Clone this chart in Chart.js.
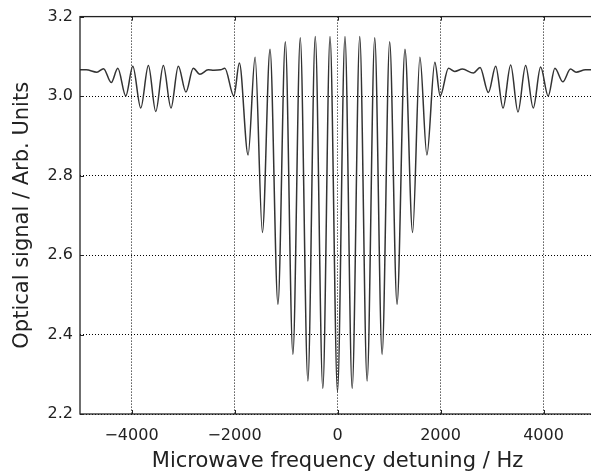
<!DOCTYPE html>
<html>
<head>
<meta charset="utf-8">
<script src="https://cdn.jsdelivr.net/npm/chart.js@4.4.1/dist/chart.umd.min.js"></script>
<style>
  html, body { margin: 0; padding: 0; background: #fff; overflow: hidden; }
  canvas { display: block; }
</style>
</head>
<body>
<canvas id="grafico" width="600" height="472"></canvas>
<script>
/* Sinal óptico x dessintonia de micro-ondas (extremos). */
const FREQ_HZ = [
  -5000, -4880, -4672, -4543, -4394, -4266, -4111, -3975, -3820, -3672,
  -3529, -3382, -3233, -3091, -2943, -2801, -2672, -2511, -2400, -2270,
  -2188, -2013, -1905, -1736, -1600, -1458, -1310, -1156, -1013, -866,
  -723, -575, -432, -285, -145, 0, 145, 285, 432, 575,
  723, 866, 1013, 1156, 1310, 1458, 1600, 1736, 1890, 1994,
  2155, 2275, 2426, 2639, 2768, 2930, 3072, 3214, 3363, 3504,
  3653, 3801, 3944, 4091, 4221, 4375, 4524, 4633, 4815, 5000,
];
const SINAL = [
  3.066, 3.066, 3.060, 3.069, 3.034, 3.070, 3.000, 3.075, 2.970, 3.077,
  2.961, 3.077, 2.970, 3.075, 3.010, 3.070, 3.055, 3.066, 3.065, 3.066,
  3.070, 3.000, 3.083, 2.852, 3.098, 2.657, 3.118, 2.476, 3.137, 2.350,
  3.147, 2.283, 3.150, 2.264, 3.150, 2.256, 3.150, 2.264, 3.150, 2.283,
  3.147, 2.350, 3.137, 2.476, 3.118, 2.657, 3.098, 2.852, 3.085, 3.000,
  3.070, 3.062, 3.068, 3.058, 3.072, 3.009, 3.075, 2.970, 3.078, 2.960,
  3.077, 2.970, 3.073, 3.000, 3.070, 3.036, 3.068, 3.060, 3.066, 3.066,
];
const X_TICKS = [-4000, -2000, 0, 2000, 4000];
const Y_TICKS = [2.2, 2.4, 2.6, 2.8, 3.0, 3.2];

const FONTE = "'DejaVu Sans', 'Liberation Sans', sans-serif";

// moldura + marcas de escala para dentro (estilo matplotlib)
const molduraPlugin = {
  id: "moldura",
  afterDatasetsDraw(chart) {
    const { ctx, chartArea: a, scales } = chart;
    ctx.save();
    ctx.setLineDash([]);
    ctx.strokeStyle = "#222";
    ctx.lineWidth = 1.3;
    ctx.strokeRect(a.left, a.top, a.right - a.left, a.bottom - a.top);
    ctx.lineWidth = 1;
    ctx.beginPath();
    X_TICKS.forEach(v => {
      const px = Math.round(scales.x.getPixelForValue(v)) + 0.5;
      ctx.moveTo(px, a.bottom); ctx.lineTo(px, a.bottom - 4);
      ctx.moveTo(px, a.top); ctx.lineTo(px, a.top + 4);
    });
    Y_TICKS.forEach(v => {
      const py = Math.round(scales.y.getPixelForValue(v)) + 0.5;
      ctx.moveTo(a.left, py); ctx.lineTo(a.left + 4, py);
    });
    ctx.stroke();
    ctx.restore();
  },
};

new Chart(document.getElementById("grafico"), {
  type: "line",
  data: {
    datasets: [{
      data: FREQ_HZ.map((f, i) => ({ x: f, y: SINAL[i] })),
      borderColor: "#333",
      borderWidth: 1.5,
      pointRadius: 0,
      fill: false,
      cubicInterpolationMode: "monotone",
    }],
  },
  options: {
    responsive: false,
    animation: false,
    events: [],
    layout: { padding: { top: 15, right: 5, bottom: 0, left: 0 } },
    plugins: { legend: { display: false }, tooltip: { enabled: false } },
    scales: {
      x: {
        type: "linear",
        min: -5000,
        max: 5000,
        afterBuildTicks: s => { s.ticks = X_TICKS.map(v => ({ value: v })); },
        afterFit: s => { s.height = 58; },
        grid: { color: "#000", lineWidth: 1, drawTicks: false },
        border: { display: false, dash: [1, 2] },
        ticks: {
          padding: 12,
          color: "#222",
          font: { family: FONTE, size: 16 },
          maxRotation: 0,
          callback: v => (v < 0 ? "\u2212" + Math.abs(v) : String(v)),
        },
        title: {
          display: true,
          text: "Microwave frequency detuning / Hz",
          color: "#222",
          font: { family: FONTE, size: 21, lineHeight: 1 },
          padding: { top: 0, bottom: 0 },
        },
      },
      y: {
        min: 2.2,
        max: 3.2,
        afterBuildTicks: s => { s.ticks = Y_TICKS.map(v => ({ value: v })); },
        afterFit: s => { s.width = 80; },
        grid: { color: "#000", lineWidth: 1, drawTicks: false },
        border: { display: false, dash: [1, 2] },
        ticks: {
          padding: 7,
          color: "#222",
          font: { family: FONTE, size: 16 },
          callback: v => v.toFixed(1),
        },
        title: {
          display: true,
          text: "Optical signal / Arb. Units",
          color: "#222",
          font: { family: FONTE, size: 21, lineHeight: 1 },
          padding: { top: 12, bottom: 0 },
        },
      },
    },
  },
  plugins: [molduraPlugin],
});
</script>
</body>
</html>
